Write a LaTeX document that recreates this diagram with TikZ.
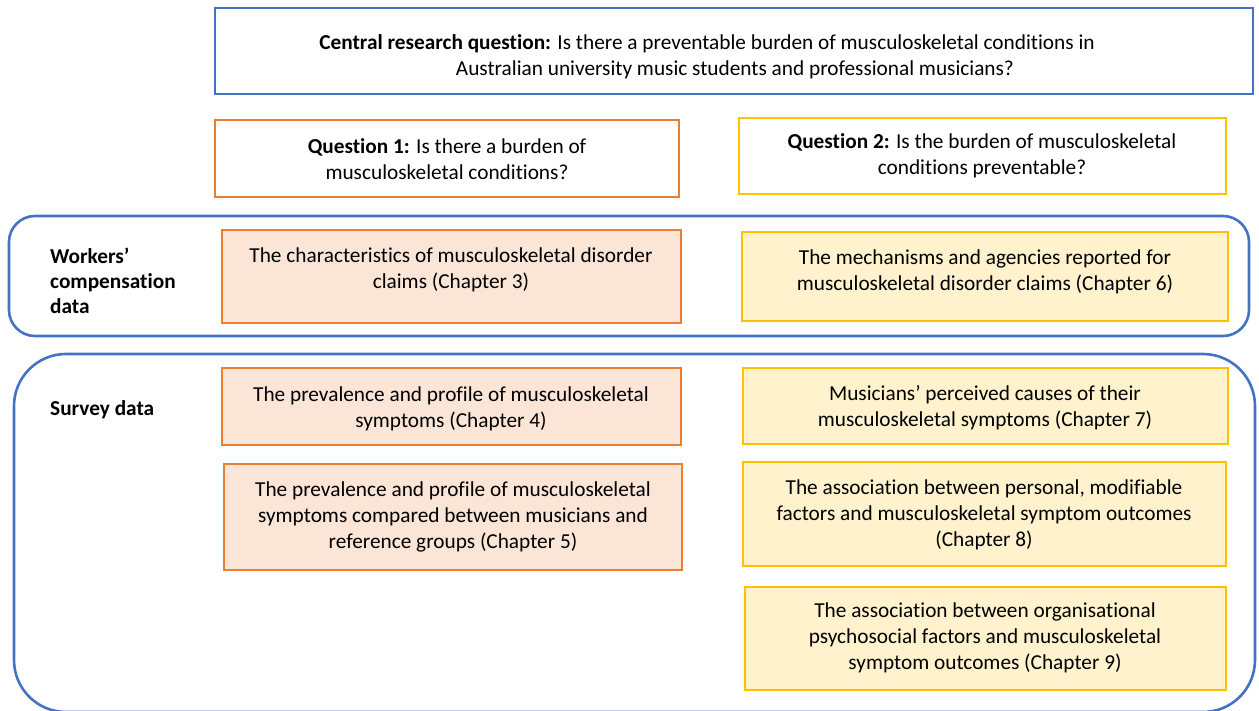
\documentclass[tikz,border=0pt]{standalone}
\usepackage{fontspec}
\setmainfont{Carlito}[Ligatures=NoCommon]
\definecolor{mblue}{HTML}{4472C4}
\definecolor{morange}{HTML}{ED7D31}
\definecolor{myellow}{HTML}{FFC000}
\definecolor{forange}{HTML}{FBE5D6}
\definecolor{fyellow}{HTML}{FFF2CC}
\begin{document}
\begin{tikzpicture}[x=1pt,y=-1pt,
  txt/.style={font=\fontsize{21.3}{26.3}\selectfont, align=center, inner sep=0pt},
  box/.style={line width=2.4pt},
  groupbox/.style={draw=mblue, line width=2.6pt},
  lbl/.style={font=\fontsize{21.3}{25}\selectfont\bfseries, align=left, anchor=north west, inner sep=0pt}
]
\useasboundingbox (0,0) rectangle (1259,711);
\clip (0,0) rectangle (1259,711);

% group frames
\draw[groupbox, rounded corners=26] (9,216) rectangle (1249,336);
\draw[groupbox, rounded corners=52] (14,354) rectangle (1255,712);

% question boxes
\draw[box, draw=mblue] (215,8) rectangle (1253,94);
\node[txt] (central) at (735,57) {\textbf{Central research question:} Is there a preventable burden of musculoskeletal conditions in\hspace*{56pt}\\Australian university music students and professional musicians?};

\draw[box, draw=morange] (215,120) rectangle (679,197);
\node[txt] (q1) at (447,159) {\textbf{Question 1:} Is there a burden of\\musculoskeletal conditions?};

\draw[box, draw=myellow] (739,118) rectangle (1226,194);
\node[txt] (q2) at (982,156) {\textbf{Question 2:} Is the burden of musculoskeletal\\conditions preventable?};

% workers' compensation row
\node[lbl] (wc) at (50,248) {Workers’\\compensation\\data};
\draw[box, draw=morange, fill=forange] (222,230) rectangle (681,323);
\node[txt] (c3) at (451,270) {The characteristics of musculoskeletal disorder\\claims (Chapter 3)};
\draw[box, draw=myellow, fill=fyellow] (742,232) rectangle (1228,321);
\node[txt] (c6) at (985,272) {The mechanisms and agencies reported for\\musculoskeletal disorder claims (Chapter 6)};

% survey rows
\node[lbl] (sd) at (50,400) {Survey data};
\draw[box, draw=morange, fill=forange] (222,368) rectangle (681,445);
\node[txt] (c4) at (451,409) {The prevalence and profile of musculoskeletal\\symptoms (Chapter 4)};
\draw[box, draw=morange, fill=forange] (224,464) rectangle (682,570);
\node[txt] (c5) at (453,517) {The prevalence and profile of musculoskeletal\\symptoms compared between musicians and\\reference groups (Chapter 5)};

\draw[box, draw=myellow, fill=fyellow] (743,368) rectangle (1228,444);
\node[txt] (c7) at (985,408) {Musicians’ perceived causes of their\\musculoskeletal symptoms (Chapter 7)};
\draw[box, draw=myellow, fill=fyellow] (743,462) rectangle (1226,566);
\node[txt] (c8) at (984,515) {The association between personal, modifiable\\factors and musculoskeletal symptom outcomes\\(Chapter 8)};
\draw[box, draw=myellow, fill=fyellow] (745,587) rectangle (1226,690);
\node[txt] (c9) at (985,638) {The association between organisational\\psychosocial factors and musculoskeletal\\symptom outcomes (Chapter 9)};
\end{tikzpicture}
\end{document}
